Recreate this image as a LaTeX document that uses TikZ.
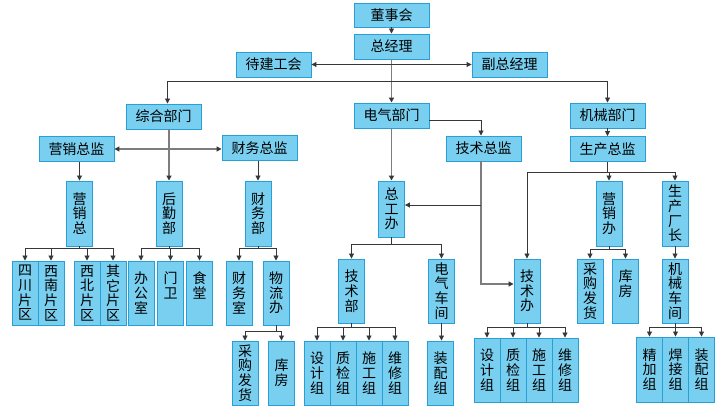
\documentclass[tikz,border=0pt]{standalone}
\usepackage{fontspec}
\newfontfamily\cjk{Noto Sans CJK SC}
\usetikzlibrary{arrows.meta}
\definecolor{boxfill}{RGB}{120,207,240}
\definecolor{boxline}{RGB}{38,160,214}
\definecolor{lnA}{RGB}{55,55,55}
\definecolor{lnB}{RGB}{125,125,125}
\tikzset{
  bx/.style={draw=boxline, fill=boxfill, line width=0.9pt, inner sep=0pt,
    font=\cjk\fontsize{14}{14.7}\selectfont, align=center},
  hb/.style={bx, minimum width=75pt, minimum height=25pt},
  vb/.style={bx, minimum width=26pt, minimum height=64pt},
  ln/.style={draw=lnA, line width=0.9pt},
  lnk/.style={draw=lnB, line width=1.6pt},
  >={Triangle[length=5pt,width=5pt,color=lnA]}
}
\begin{document}
\begin{tikzpicture}[x=1pt,y=-1pt]
\useasboundingbox (0,0) rectangle (726,411);
\fill[white] (0,0) rectangle (726,411);
% level 0-2
\node[hb, minimum height=24pt] (dsh) at (391.5,15) {董事会};
\node[hb] (zjl) at (391.5,46.5) {总经理};
\node[hb] (djgh) at (273.5,64.5) {待建工会};
\node[hb] (fzjl) at (509.5,64.5) {副总经理};
\node[hb] (zhbm) at (163.5,116.5) {综合部门};
\node[hb] (dqbm) at (391.5,115.5) {电气部门};
\node[hb] (jxbm) at (607.5,115.5) {机械部门};
\node[hb] (yxzj) at (76.5,149) {营销总监};
\node[hb] (cwzj) at (259.5,148) {财务总监};
\node[hb] (jszj) at (483.5,148.5) {技术总监};
\node[hb] (sczj) at (607.5,149) {生产总监};
% level 3
\node[vb, minimum height=65pt] (yxz) at (79.5,213.5) {营\\销\\总};
\node[vb, minimum height=65pt] (hqb) at (169,213.5) {后\\勤\\部};
\node[vb, minimum height=65pt] (cwb) at (258,213.5) {财\\务\\部};
\node[vb, minimum height=56pt] (zgb) at (391.5,209) {总\\工\\办};
\node[vb, minimum height=65pt] (yxb) at (609,213.5) {营\\销\\办};
\node[vb, minimum height=65pt] (sccz) at (675,213.5) {生\\产\\厂\\长};
% level 4
\node[vb] (scpq) at (25,293) {四\\川\\片\\区};
\node[vb] (xnpq) at (51,293) {西\\南\\片\\区};
\node[vb] (xbpq) at (87,293) {西\\北\\片\\区};
\node[vb] (qtpq) at (113,293) {其\\它\\片\\区};
\node[vb] (bgs) at (141,293) {办\\公\\室};
\node[vb] (mw) at (170.5,293) {门\\卫\\\phantom{门}};
\node[vb] (st) at (199.5,293) {食\\堂\\\phantom{门}};
\node[vb] (cws) at (239,293) {财\\务\\室};
\node[vb] (wlb) at (276,293) {物\\流\\办};
\node[vb] (jsb) at (351.5,291) {技\\术\\部};
\node[vb] (dqcj) at (441.5,291) {电\\气\\车\\间};
\node[vb] (jsban) at (527,291) {技\\术\\办};
\node[vb] (cgfh2) at (590,291) {采\\购\\发\\货};
\node[vb] (kf2) at (625.5,291) {库\\房\\\phantom{门}};
\node[vb] (jxcj) at (675,291) {机\\械\\车\\间};
% level 5
\node[vb] (cgfh1) at (245,373) {采\\购\\发\\货};
\node[vb] (kf1) at (281.5,373) {库\\房};
\node[vb] (sjz1) at (317,373) {设\\计\\组};
\node[vb] (zjz1) at (343,373) {质\\检\\组};
\node[vb] (sgz1) at (369,373) {施\\工\\组};
\node[vb] (wxz1) at (395,373) {维\\修\\组};
\node[vb] (zpz1) at (440.5,373) {装\\配\\组};
\node[vb] (sjz2) at (487,370) {设\\计\\组};
\node[vb] (zjz2) at (513,370) {质\\检\\组};
\node[vb] (sgz2) at (539,370) {施\\工\\组};
\node[vb] (wxz2) at (565,370) {维\\修\\组};
\node[vb, minimum height=65pt] (jjz) at (649.5,369.5) {精\\加\\组};
\node[vb, minimum height=65pt] (hjz) at (675.5,369.5) {焊\\接\\组};
\node[vb, minimum height=65pt] (zpz2) at (701.5,369.5) {装\\配\\组};

% top connectors
\draw[ln,->] (dsh) -- (zjl);
\draw[lnk,->] (zjl) -- (dqbm);
\coordinate (j1) at (zjl.south |- djgh.east);
\draw[ln,->] (j1) -- (djgh.east);
\draw[ln,->] (j1) -- (fzjl.west);
\coordinate (j2) at (391.5,81);
\draw[ln,->] (j2) -| ([xshift=4pt]zhbm.north);
\draw[ln,->] (j2) -| (jxbm.north);
% 综合部门
\draw[lnk,->] (zhbm.south -| hqb.north) -- (hqb.north);
\draw[lnk,<->] (yxzj.east) -- (yxzj.east -| cwzj.west);
\draw[ln,->] (yxzj.south -| yxz.north) -- (yxz.north);
\draw[ln,->] (cwzj.south -| cwb.north) -- (cwb.north);
% 电气部门
\draw[ln,->] ([yshift=-4.5pt]dqbm.east) -| ([xshift=-2.5pt]jszj.north);
\draw[lnk,->] (dqbm) -- (zgb);
\coordinate (tv) at ([xshift=-2.5pt]jszj.south);
\coordinate (jw) at ([yshift=7pt]jsban.west);
\draw[lnk,->] (tv) |- (jw);
\coordinate (ze) at ([yshift=4pt]zgb.east);
\draw[ln,->] (ze -| tv) -- (ze);
% 机械部门
\draw[ln,->] (jxbm) -- (sczj);
\draw[ln] (sczj.south) -- ++(0,11) coordinate (bs);
\foreach \c in {jsban,yxb,sccz} \draw[ln,->] (bs) -| (\c.north);
\draw[ln,->] (sccz) -- (jxcj);
\draw[ln,->] (dqcj.south) -- (dqcj.south |- zpz1.north);
% bars
\draw[ln] (yxz.south) -- ++(0,2) coordinate (b1);
\foreach \c in {scpq,xnpq,xbpq,qtpq} \draw[ln,->] (b1) -| (\c.north);
\draw[ln] (hqb.south) -- ++(0,2) coordinate (b2);
\foreach \c in {bgs,mw,st} \draw[ln,->] (b2) -| (\c.north);
\draw[ln] (cwb.south) -- ++(0,2) coordinate (b3);
\foreach \c in {cws,wlb} \draw[ln,->] (b3) -| (\c.north);
\draw[ln] (wlb.south) -- ++(0,6) coordinate (b4);
\foreach \c in {cgfh1,kf1} \draw[ln,->] (b4) -| (\c.north);
\draw[ln] (zgb.south) -- ++(0,7) coordinate (b5);
\foreach \c in {jsb,dqcj} \draw[ln,->] (b5) -| (\c.north);
\draw[ln] (jsb.south) -- ++(0,4) coordinate (b6);
\foreach \c in {sjz1,zjz1,sgz1,wxz1} \draw[ln,->] (b6) -| (\c.north);
\draw[ln] (jsban.south) -- ++(0,4) coordinate (b7);
\foreach \c in {sjz2,zjz2,sgz2,wxz2} \draw[ln,->] (b7) -| (\c.north);
\draw[ln] (yxb.south) -- ++(0,3) coordinate (b8);
\foreach \c in {cgfh2,kf2} \draw[ln,->] (b8) -| (\c.north);
\draw[ln] (jxcj.south) -- ++(0,4) coordinate (b9);
\foreach \c in {jjz,hjz,zpz2} \draw[ln,->] (b9) -| (\c.north);
\end{tikzpicture}
\end{document}
